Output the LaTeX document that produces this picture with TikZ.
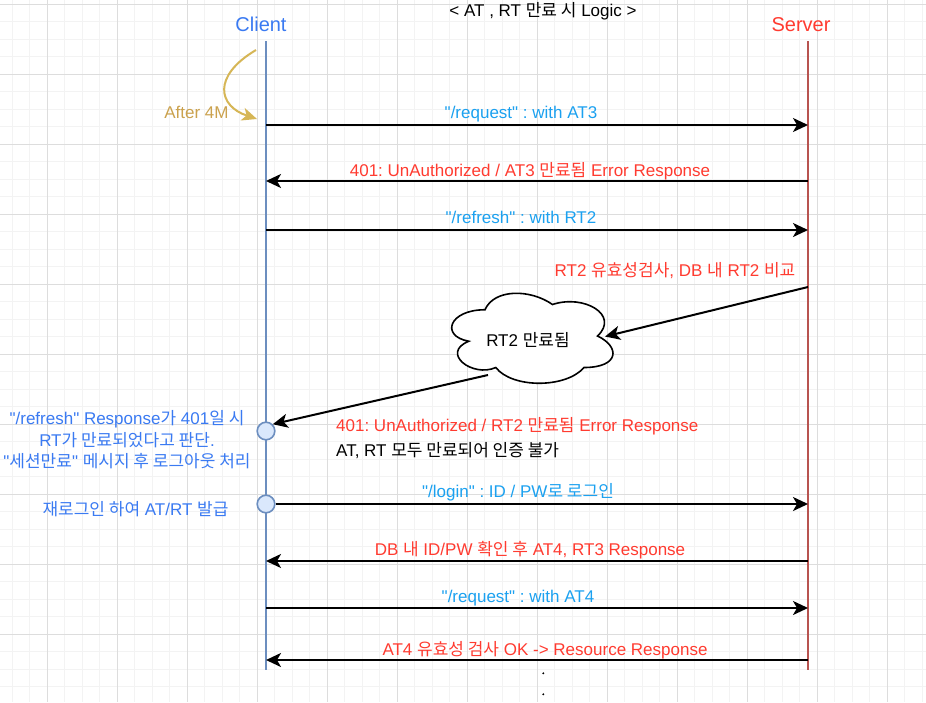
\documentclass[tikz,border=0pt]{standalone}
\usepackage{fontspec}
\setmainfont{Liberation Sans}[Ligatures=TeXOff]
\newfontfamily\krfont{Noto Sans CJK KR}[Ligatures=TeXOff]
\newcommand\K[1]{{\krfont #1}}
\usetikzlibrary{arrows.meta}
\definecolor{cblue}{HTML}{3A7AF2}
\definecolor{cred}{HTML}{FF3B30}
\definecolor{ccyan}{HTML}{1BA1F0}
\definecolor{cgold}{HTML}{D6B656}
\definecolor{cgoldtxt}{HTML}{CBA24E}
\definecolor{lblue}{HTML}{6C8EBF}
\definecolor{lred}{HTML}{B85450}
\definecolor{cfill}{HTML}{DAE8FC}
\definecolor{gminor}{HTML}{F3F3F3}
\definecolor{gmajor}{HTML}{DDDDDD}
\tikzset{
  lbl/.style={font=\fontsize{17}{21}\selectfont\frenchspacing, inner sep=0pt, anchor=base},
  big/.style={font=\fontsize{20}{24}\selectfont, inner sep=0pt, anchor=base},
  msg/.style={draw=black, line width=2pt, -{Stealth[length=15pt,width=14pt,inset=4pt]}},
  circ/.style={circle, draw=lblue, fill=cfill, line width=1.6pt, minimum size=17.6pt, inner sep=0pt},
  gridminor/.style={draw=gminor, line width=0.8pt},
  gridmajor/.style={draw=gmajor, line width=1pt},
}
\begin{document}
\begin{tikzpicture}[x=1pt,y=-1pt]
\useasboundingbox (0,0) rectangle (926,702);
\fill[white] (0,0) rectangle (926,702);
% grid
\foreach \i in {0,...,52} { \draw[gridminor] (12.3+17.5*\i,0) -- ++(0,702); }
\foreach \j in {0,...,39} { \draw[gridminor] (0,4.3+17.5*\j) -- ++(926,0); }
\foreach \i in {0,...,12} { \draw[gridmajor] (47.3+70*\i,0) -- ++(0,702); }
\foreach \j in {0,...,9} { \draw[gridmajor] (0,4.3+70*\j) -- ++(926,0); }

% headers
\node[lbl] (title) at (543,16) {< AT , RT \K{만료 시} Logic >};
\node[big, text=cblue] (client) at (261,31) {Client};
\node[big, text=cred] (server) at (801,31) {Server};

% lifelines
\coordinate (ctop) at (266,41);
\coordinate (cbot) at (266,670);
\coordinate (stop) at (808,41);
\coordinate (sbot) at (808,670);
\draw[lblue, line width=2pt] (ctop) -- (cbot);
\draw[lred, line width=2pt] (stop) -- (sbot);

% after 4M
\coordinate (g1) at (256,50);
\coordinate (g2) at (257,119);
\draw[cgold, line width=2pt, -{Stealth[length=15pt,width=13pt,inset=4pt]}] (g1) .. controls (212,76) and (218,106) .. (g2);
\node[lbl, text=cgoldtxt] (after) at (196.5,118) {After 4M};

% message points
\foreach \n/\y in {1/125,2/181,3/230,6/504,7/561,8/608,9/660} {
  \coordinate (c\n) at (266,\y);
  \coordinate (s\n) at (808,\y);
}
\coordinate (s4) at (808,287);

\draw[msg] (c1) -- (s1);
\node[lbl, text=ccyan] (l1) at (521,118) {"/request" : with AT3};
\draw[msg] (s2) -- (c2);
\node[lbl, text=cred] (l2) at (530,176) {401: UnAuthorized / AT3 \K{만료됨} Error Response};
\draw[msg] (c3) -- (s3);
\node[lbl, text=ccyan] (l3) at (521,223) {"/refresh" : with RT2};
\node[lbl, text=cred] (l4) at (675,276) {RT2 \K{유효성검사}, DB \K{내} RT2 \K{비교}};

% cloud
\draw[black, line width=1.6pt, fill=white]
  (485,309.75) .. controls (449,309.75) and (440,336) .. (468.8,341.25)
  .. controls (440,352.8) and (472.4,378) .. (495.8,367.5)
  .. controls (512,388.5) and (566,388.5) .. (584,367.5)
  .. controls (620,367.5) and (620,346.5) .. (597.5,336)
  .. controls (620,315) and (584,294) .. (552.5,304.5)
  .. controls (530,288.75) and (494,288.75) .. (485,309.75) -- cycle;
\node[lbl] (cloud) at (528,346) {RT2 \K{만료됨}};
\coordinate (cin) at (605,336.5);
\coordinate (cout) at (488,375);
\draw[msg] (s4) -- (cin);

% circles
\node[circ] (k1) at (266,431) {};
\node[circ] (k2) at (266,504) {};
\draw[msg] (cout) -- (k1.north east);

\node[lbl, text=cred, anchor=base west] (l5) at (336,431) {401: UnAuthorized / RT2 \K{만료됨} Error Response};
\node[lbl, anchor=base west] (l5b) at (336,456) {AT, RT \K{모두 만료되어 인증 불가}};

\node[lbl, text=cblue] (n1) at (127,424.5) {"/refresh" Response\K{가} 401\K{일 시}};
\node[lbl, text=cblue] (n2) at (127,446.2) {RT\K{가 만료되었다고 판단}.};
\node[lbl, text=cblue] (n3) at (127,467.9) {"\K{세션만료}" \K{메시지 후 로그아웃 처리}};
\node[lbl, text=cblue] (n4) at (135.5,515) {\K{재로그인 하여} AT/RT \K{발급}};

\draw[msg] (k2) -- (s6);
\node[lbl, text=ccyan] (l6) at (518,497) {"/login" : ID / PW\K{로 로그인}};
\draw[msg] (s7) -- (c7);
\node[lbl, text=cred] (l7) at (530,555) {DB \K{내} ID/PW \K{확인 후} AT4, RT3 Response};
\draw[msg] (c8) -- (s8);
\node[lbl, text=ccyan] (l8) at (518,602) {"/request" : with AT4};
\draw[msg] (s9) -- (c9);
\node[lbl, text=cred] (l9) at (545,655) {AT4 \K{유효성 검사} OK -> Resource Response};

% dots
\fill[black] (543.3,673.3) circle (1.1pt);
\fill[black] (543.3,694.3) circle (1.1pt);
\end{tikzpicture}
\end{document}
